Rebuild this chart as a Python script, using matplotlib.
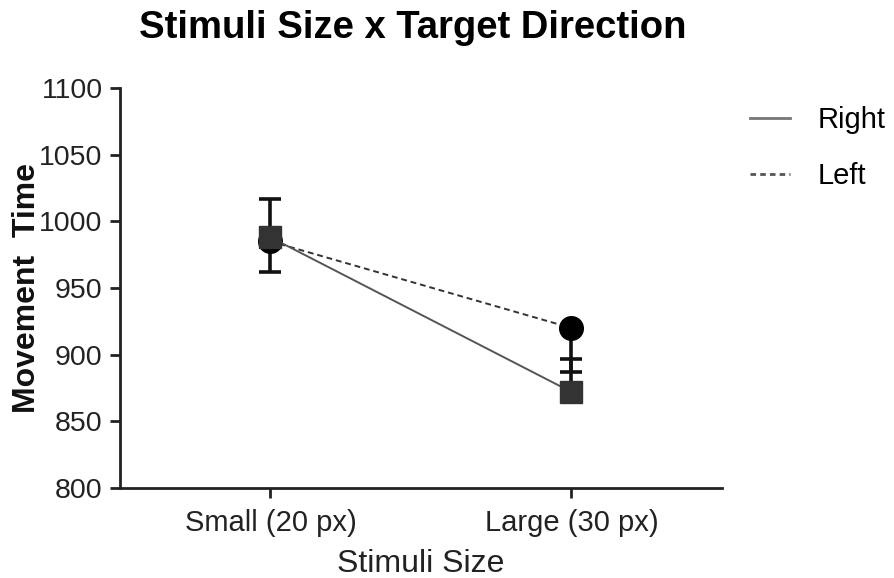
import numpy as np
import matplotlib.pyplot as plt
from matplotlib.lines import Line2D

plt.rcParams['font.family'] = ['Liberation Sans', 'DejaVu Sans']

sizes = ['Small (20 px)', 'Large (30 px)']
right_mean = np.array([988, 872])
right_err = np.array([29, 25])
left_mean = np.array([985, 920])
left_err = np.array([23, 33])

fig = plt.figure(figsize=(8.94, 5.78), dpi=100)
ax = fig.add_axes([0.1342, 0.1557, 0.6734, 0.6921])
x = np.arange(len(sizes))

bar_kw = dict(fmt='none', ecolor='#111111', elinewidth=2.6, capsize=8,
              capthick=2.6)
# one-sided bars: Right goes up, Left goes down
ax.errorbar(x, right_mean + right_err / 2, yerr=right_err / 2, zorder=2, **bar_kw)
ax.errorbar(x, left_mean - left_err / 2, yerr=left_err / 2, zorder=2, **bar_kw)

ax.plot(x, left_mean, color='#333333', lw=1.4, ls=(0, (3, 2)), marker='o',
        ms=17, mfc='black', mec='black', zorder=3)
ax.plot(x, right_mean, color='#555555', lw=1.4, ls='-', marker='s',
        ms=15.5, mfc='#333333', mec='#333333', zorder=4)

ax.set_xlim(-0.5, 1.5)
ax.set_ylim(800, 1100)
ax.set_yticks(range(800, 1101, 50))
ax.set_xticks(x)
ax.set_xticklabels(sizes)
for s in ['top', 'right']:
    ax.spines[s].set_visible(False)
for s in ['left', 'bottom']:
    ax.spines[s].set_linewidth(2)
    ax.spines[s].set_color('#222222')
ax.tick_params(axis='both', width=2, length=7, color='#222222',
               labelsize=20.5, labelcolor='#222222')
ax.tick_params(axis='y', pad=5.5)
ax.tick_params(axis='x', pad=8, labelsize=21)

ax.set_xlabel('Stimuli Size', fontsize=23, color='#222222', labelpad=9)
ax.set_ylabel('Movement  Time', fontsize=23, fontweight='bold',
              color='#111111', labelpad=-2)
fig.suptitle('Stimuli Size x Target Direction', fontsize=27.5,
             fontweight='bold', x=0.462, y=0.982)

handles = [Line2D([], [], color='#777777', lw=2, ls='-'),
           Line2D([], [], color='#555555', lw=2, ls=(0, (2, 1.5)))]
fig.legend(handles, ['Right', 'Left'], loc='upper left',
           bbox_to_anchor=(0.839, 0.817), frameon=False, fontsize=21,
           handlelength=1.37, handletextpad=0.95, labelspacing=0.98,
           borderpad=0, borderaxespad=0)

fig.savefig('out.png', dpi=100)
